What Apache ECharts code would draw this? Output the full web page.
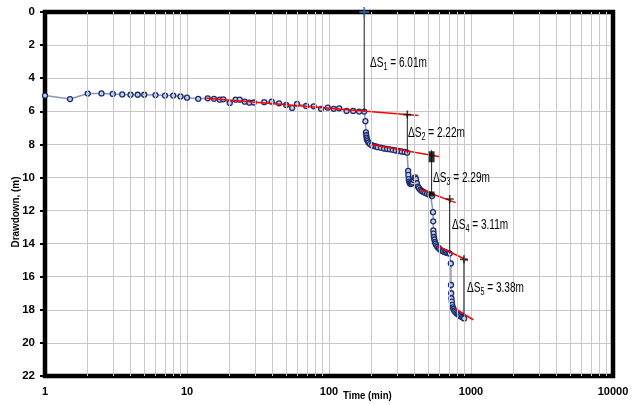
<!DOCTYPE html>
<html>
<head>
    <title>Drawdown vs time</title>
    <meta charset="utf-8">
    <script type="text/javascript" src="https://cdn.jsdelivr.net/npm/echarts@6/dist/echarts.min.js"></script>
    <style>
        html, body { margin: 0; padding: 0; background: #fff; }
    </style>
</head>
<body>
<div id="chartmain" style="width:633px; height:405px;"></div>

<script type="text/javascript">
    // step 1 (t = 0 - 180 min)
    var step1Time = [1, 1.5, 2, 2.5, 3, 3.5, 4, 4.5, 5, 6, 7, 8, 9, 10, 12, 14, 15.5, 17, 18, 20, 22, 23.5, 25.5, 27.5, 29.5, 35, 39.5, 44.5, 50, 55, 59.5, 69, 78, 88, 98, 108, 118, 133, 148, 163, 177];
    var step1Drawdown = [5.05, 5.26, 4.93, 4.92, 4.95, 4.98, 5.0, 5.0, 5.0, 5.02, 5.05, 5.05, 5.1, 5.18, 5.25, 5.22, 5.25, 5.3, 5.28, 5.5, 5.3, 5.3, 5.42, 5.48, 5.47, 5.45, 5.42, 5.52, 5.62, 5.8, 5.55, 5.68, 5.7, 5.85, 5.78, 5.85, 5.82, 5.98, 5.98, 6.02, 6.02];
    // step 2 (180 - 360)
    var step2Time = [180.5, 182, 183, 184, 185, 187, 190, 194, 200, 207, 214, 220, 232, 244, 256, 268, 281, 295, 310, 325, 341, 355];
    var step2Drawdown = [6.6, 7.28, 7.45, 7.6, 7.7, 7.8, 7.9, 7.98, 8.05, 8.1, 8.13, 8.17, 8.2, 8.25, 8.28, 8.3, 8.33, 8.37, 8.4, 8.43, 8.46, 8.5];
    // step 3 (360 - 540)
    var step3Time = [361, 362, 364, 367, 371, 376, 382, 388, 394, 400, 405, 410, 416, 423, 430, 440, 450, 462, 475, 490, 505, 520, 532];
    var step3Drawdown = [9.6, 9.85, 10.1, 10.25, 10.35, 10.4, 10.38, 10.3, 10.15, 10.02, 10.0, 10.1, 10.35, 10.55, 10.65, 10.75, 10.82, 10.88, 10.93, 10.98, 11.03, 11.08, 11.12];
    // step 4 (540 - 720)
    var step4Time = [540, 542, 543, 545, 548, 552, 557, 563, 570, 580, 592, 605, 620, 635, 650, 665, 680, 695, 708];
    var step4Drawdown = [12.1, 12.65, 13.2, 13.4, 13.6, 13.75, 13.9, 14.0, 14.1, 14.2, 14.28, 14.35, 14.42, 14.46, 14.5, 14.53, 14.56, 14.58, 14.6];
    // step 5 (720 - 900)
    var step5Time = [721, 723, 725, 728, 732, 737, 744, 752, 762, 775, 790, 805, 820, 840, 860, 880, 895];
    var step5Drawdown = [15.2, 16.5, 17.0, 17.3, 17.5, 17.7, 17.85, 17.95, 18.05, 18.12, 18.2, 18.26, 18.32, 18.38, 18.43, 18.48, 18.52];

    // red straight-line fits [start, end]
    var fitTime = [[13.7, 426], [200, 605], [430, 780], [580, 950], [771, 1037]];
    var fitDrawdown = [[5.22, 6.25], [8.02, 8.75], [10.7, 11.52], [14.15, 15.02], [17.91, 18.6]];

    // delta S measurement lines
    var deltaTime = [177, 356, 528, 708, 892];
    var deltaTop = [0, 6.2, 8.35, 11.3, 14.95];
    var deltaBottom = [6.0, 8.55, 11.0, 14.6, 18.4];
    var deltaIndex = ['1', '2', '3', '4', '5'];
    var deltaValue = ['6.01m', '2.22m', '2.29m', '3.11m', '3.38m'];

    var xTickLabels = [1, 10, 100, 1000, 10000];

    var font = "'Liberation Sans Narrow', 'Liberation Sans', Arial, sans-serif";

    function pairs(ts, ss) {
        var out = [];
        for (var i = 0; i < ts.length; i++) out.push([ts[i], ss[i]]);
        return out;
    }

    var allPoints = [].concat(
        pairs(step1Time, step1Drawdown),
        pairs(step2Time, step2Drawdown),
        pairs(step3Time, step3Drawdown),
        pairs(step4Time, step4Drawdown),
        pairs(step5Time, step5Drawdown)
    );

    // minor log grid lines 2..9 per decade
    var minorX = [];
    for (var d = 1; d < 10000; d *= 10) {
        for (var k = 2; k <= 9; k++) minorX.push(k * d);
    }

    var series = [];
    series.push({
        type: 'line',
        data: [[1, 0]],
        showSymbol: false,
        silent: true,
        z: 1,
        lineStyle: { width: 0 },
        markLine: {
            silent: true,
            symbol: 'none',
            label: { show: false },
            lineStyle: { color: '#c8c8c8', type: 'solid', width: 1 },
            data: minorX.map(function (v) { return { xAxis: v }; })
        }
    });

    series.push({
        name: 'drawdown',
        type: 'line',
        data: allPoints,
        symbol: 'circle',
        symbolSize: 5,
        showAllSymbol: true,
        z: 3,
        lineStyle: { color: '#8d97b5', width: 1.5 },
        itemStyle: { color: '#c9d0ea', borderColor: '#1c2d6e', borderWidth: 1.3 }
    });

    for (var i = 0; i < fitTime.length; i++) {
        series.push({
            type: 'line',
            data: pairs(fitTime[i], fitDrawdown[i]),
            symbol: 'none',
            z: 4,
            lineStyle: { color: '#ff0000', width: 1.5 }
        });
    }

    for (var j = 0; j < deltaTime.length; j++) {
        series.push({
            type: 'line',
            data: [[deltaTime[j], deltaTop[j]], [deltaTime[j], deltaBottom[j]]],
            symbol: 'none',
            z: 5,
            lineStyle: { color: '#1a1a1a', width: 1 }
        });
    }

    var plus = 'path://M4,0H6V4H10V6H6V10H4V6H0V4H4Z';
    series.push({
        type: 'scatter',
        data: [[deltaTime[0], deltaTop[0]]],
        symbol: plus,
        symbolSize: 10,
        z: 6,
        itemStyle: { color: '#2f6fb0' }
    });
    series.push({
        type: 'scatter',
        data: [[deltaTime[1], deltaTop[1]], [deltaTime[3], deltaTop[3]], [deltaTime[4], deltaTop[4]]],
        symbol: plus,
        symbolSize: 8,
        z: 6,
        itemStyle: { color: '#111' }
    });
    series.push({
        type: 'scatter',
        data: [[deltaTime[2], 8.75]],
        symbol: 'rect',
        symbolSize: [6, 11],
        z: 6,
        itemStyle: { color: '#000' }
    });
    series.push({
        type: 'scatter',
        data: [[deltaTime[2], deltaBottom[2]]],
        symbol: 'rect',
        symbolSize: [6, 5],
        z: 6,
        itemStyle: { color: '#000' }
    });

    var graphics = [];
    // heavy frame round the plot area
    graphics.push({
        type: 'rect',
        z: 2,
        silent: true,
        shape: { x: 45, y: 12, width: 568, height: 364 },
        style: { fill: 'none', stroke: '#000', lineWidth: 4.5 }
    });
    // delta S labels
    var labelPos = [[370, 63], [408, 133], [433, 178], [452, 225], [467, 288]];
    for (var n = 0; n < deltaIndex.length; n++) {
        graphics.push({
            type: 'text',
            x: labelPos[n][0],
            y: labelPos[n][1],
            scaleX: 0.72,
            z: 10,
            style: {
                text: '{d|ΔS}{s|' + deltaIndex[n] + '}{d| = ' + deltaValue[n] + '}',
                verticalAlign: 'middle',
                rich: {
                    d: { fontSize: 14, fontFamily: font, color: '#2a2a2a', lineHeight: 18 },
                    s: { fontSize: 10, fontFamily: font, color: '#2a2a2a', lineHeight: 18, verticalAlign: 'bottom', padding: [6, 0, 0, 0] }
                }
            }
        });
    }
    graphics.push({
        type: 'text',
        x: 16,
        y: 212,
        rotation: Math.PI / 2,
        scaleX: 0.9,
        style: {
            text: 'Drawdown, (m)',
            fontSize: 11,
            fontWeight: 'bold',
            fontFamily: font,
            fill: '#000',
            align: 'center',
            verticalAlign: 'middle'
        }
    });
    graphics.push({
        type: 'text',
        x: 343,
        y: 396,
        scaleX: 0.88,
        style: {
            text: 'Time (min)',
            fontSize: 11,
            fontWeight: 'bold',
            fontFamily: font,
            fill: '#000',
            align: 'left',
            verticalAlign: 'middle'
        }
    });

    var option = {
        animation: false,
        backgroundColor: '#fff',
        grid: { left: 45, top: 12, right: 20, bottom: 29 },
        xAxis: {
            type: 'log',
            logBase: 10,
            min: 1,
            max: 10000,
            axisLine: { show: false },
            axisTick: { show: false },
            axisLabel: {
                color: '#000',
                fontWeight: 'bold',
                fontSize: 11,
                fontFamily: font,
                margin: 10,
                formatter: function (v) {
                    var r = Math.round(v);
                    return xTickLabels.indexOf(r) >= 0 ? String(r) : '';
                }
            },
            splitLine: { show: true, lineStyle: { color: '#c8c8c8', width: 1 } }
        },
        yAxis: {
            type: 'value',
            inverse: true,
            min: 0,
            max: 22,
            interval: 2,
            axisLine: { show: false },
            axisTick: { show: true, length: 5, lineStyle: { color: '#000', width: 2 } },
            axisLabel: { color: '#000', fontWeight: 'bold', fontSize: 11.5, fontFamily: font, margin: 10 },
            splitLine: { show: true, lineStyle: { color: '#c8c8c8', width: 1 } }
        },
        graphic: graphics,
        series: series
    };

    var myChart = echarts.init(document.getElementById('chartmain'));
    myChart.setOption(option);
</script>
</body>
</html>
